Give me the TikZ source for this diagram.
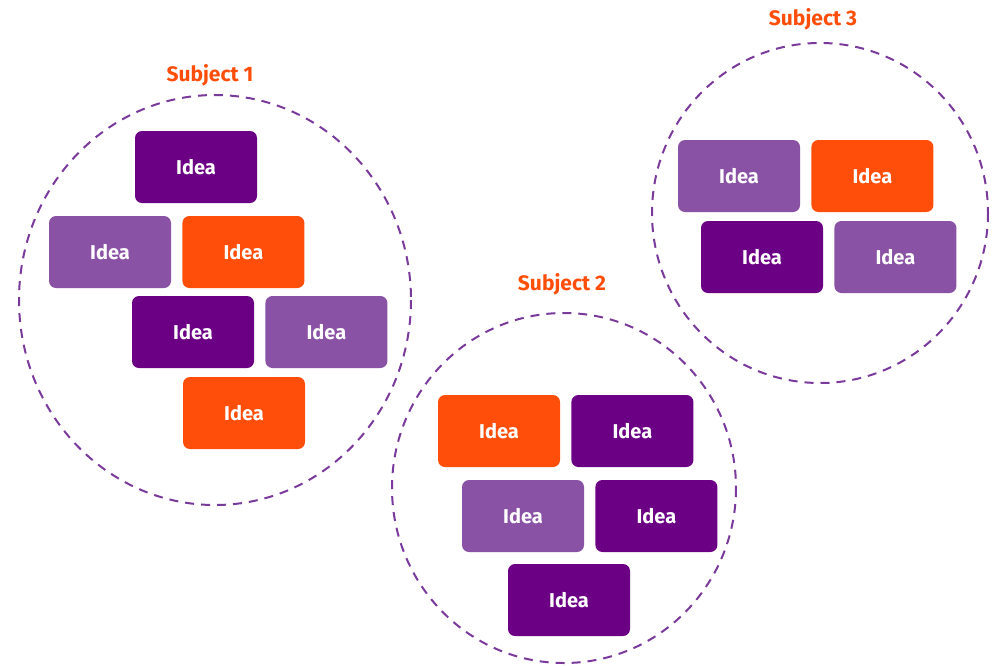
\documentclass[tikz,border=0pt]{standalone}
\usepackage{fontspec}
\setmainfont{Fira Sans}
\usetikzlibrary{positioning}

\definecolor{ideadark}{HTML}{6B0084}
\definecolor{idealight}{HTML}{8A52A5}
\definecolor{ideaorange}{HTML}{FF4E0A}
\definecolor{ringline}{HTML}{7A3A9B}

\tikzset{
  idea/.style={minimum width=122pt,minimum height=72pt,rounded corners=7pt,
    text=white,font=\fontsize{20}{24}\selectfont\bfseries},
  darkidea/.style={idea,fill=ideadark},
  lightidea/.style={idea,fill=idealight},
  orangeidea/.style={idea,fill=ideaorange},
  ring/.style={draw=ringline,line width=2pt,dash pattern=on 9pt off 7pt},
  subject/.style={text=ideaorange,font=\fontsize{21}{25}\selectfont\bfseries}
}

\begin{document}
\begin{tikzpicture}[x=1pt,y=-1pt]
\useasboundingbox (0,0) rectangle (994,665);

% subject rings
\draw[ring] (215,300) ellipse [x radius=196,y radius=205];
\draw[ring] (564,488) ellipse [x radius=172,y radius=175];
\draw[ring] (820,213) ellipse [x radius=168,y radius=170];

\node[subject] (subj1) at (210,75) {Subject 1};
\node[subject] (subj2) at (562,284) {Subject 2};
\node[subject] (subj3) at (813,19) {Subject 3};

% subject 1
\node[darkidea] (s1a) at (196,167) {Idea};
\node[lightidea] (s1b) at (110,252) {Idea};
\node[orangeidea,right=11pt of s1b] (s1c) {Idea};
\node[darkidea] (s1d) at (193,332) {Idea};
\node[lightidea,right=11pt of s1d] (s1e) {Idea};
\node[orangeidea] (s1f) at (244,413) {Idea};

% subject 2
\node[orangeidea] (s2a) at (499,431) {Idea};
\node[darkidea,right=11pt of s2a] (s2b) {Idea};
\node[lightidea] (s2c) at (523,516) {Idea};
\node[darkidea,right=11pt of s2c] (s2d) {Idea};
\node[darkidea] (s2e) at (569,600) {Idea};

% subject 3
\node[lightidea] (s3a) at (739,176) {Idea};
\node[orangeidea,right=11pt of s3a] (s3b) {Idea};
\node[darkidea] (s3c) at (762,257) {Idea};
\node[lightidea,right=11pt of s3c] (s3d) {Idea};
\end{tikzpicture}
\end{document}
